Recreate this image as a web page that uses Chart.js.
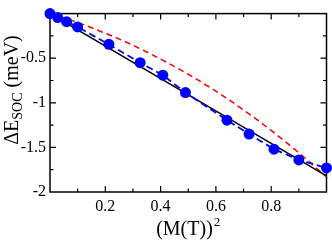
<!DOCTYPE html>
<html><head><meta charset="utf-8">
<script src="https://cdn.jsdelivr.net/npm/chart.js@4.4.0/dist/chart.umd.min.js"></script>
<style>html,body{margin:0;padding:0;background:#fff}#wrap{width:332px;height:240px}</style>
</head><body><div id="wrap"><canvas id="c" width="332" height="240"></canvas></div>
<script>
const blueX = [0, 0.028, 0.06, 0.1, 0.213, 0.326, 0.408, 0.49, 0.64, 0.72, 0.81, 0.9, 1.0];
const blueY = [0, -0.045, -0.09, -0.15, -0.345, -0.55, -0.69, -0.885, -1.195, -1.35, -1.52, -1.64, -1.73];
const redX = [0, 0.1, 0.2, 0.3, 0.4, 0.5, 0.6, 0.7, 0.8, 0.9, 1.0];
const redY = [0, -0.1, -0.22, -0.355, -0.51, -0.68, -0.87, -1.08, -1.31, -1.56, -1.83];
const blackX = [0, 1];
const blackY = [0, -1.82];
const xTickLabels = {0.2: '0.2', 0.4: '0.4', 0.6: '0.6', 0.8: '0.8'};
const yTickLabels = {'-0.5': '-0.5', '-1': '-1', '-1.5': '-1.5', '-2': '-2'};

const pts = (xs, ys) => xs.map((x, i) => ({x: x, y: ys[i]}));
const SERIF = '"Liberation Serif", "DejaVu Serif", serif';

const frame = {
  id: 'frame',
  beforeDatasetsDraw(chart) {
    const {ctx, chartArea: a, scales: {x, y}} = chart;
    ctx.save();
    ctx.strokeStyle = '#000';
    ctx.lineWidth = 1.5;
    ctx.strokeRect(a.left, a.top, a.right - a.left, a.bottom - a.top);
    ctx.lineWidth = 1.2;
    ctx.beginPath();
    for (let i = 1; i < 10; i++) {
      const v = i / 10;
      const px = x.getPixelForValue(v);
      const len = (i % 2 === 0) ? 6 : 3.5;
      ctx.moveTo(px, a.bottom); ctx.lineTo(px, a.bottom - len);
      ctx.moveTo(px, a.top); ctx.lineTo(px, a.top + len);
    }
    for (let i = 1; i < 8; i++) {
      const v = -i * 0.25;
      const py = y.getPixelForValue(v);
      const len = (i % 2 === 0) ? 6 : 3.5;
      ctx.moveTo(a.left, py); ctx.lineTo(a.left + len, py);
      ctx.moveTo(a.right, py); ctx.lineTo(a.right - len, py);
    }
    ctx.stroke();
    ctx.restore();
  },
  afterDraw(chart) {
    const {ctx, chartArea: a} = chart;
    ctx.save();
    ctx.fillStyle = '#000';
    ctx.textBaseline = 'alphabetic';
    // x title
    ctx.font = '20px ' + SERIF;
    const main = '(M(T))';
    const w1 = ctx.measureText(main).width;
    ctx.font = '13px ' + SERIF;
    const w2 = ctx.measureText('2').width;
    const cx = (a.left + a.right) / 2;
    let sx = cx - (w1 + w2 + 1) / 2;
    ctx.font = '20px ' + SERIF;
    ctx.textAlign = 'left';
    ctx.fillText(main, sx, 235);
    ctx.font = '13px ' + SERIF;
    ctx.fillText('2', sx + w1 + 1, 226);
    // y title
    ctx.translate(18, 90);
    ctx.rotate(-Math.PI / 2);
    ctx.font = '20px ' + SERIF;
    const p1 = '\u0394E', p3 = ' (meV)';
    const a1 = ctx.measureText(p1).width;
    const a3 = ctx.measureText(p3).width;
    ctx.font = '14px ' + SERIF;
    const a2 = ctx.measureText('SOC').width;
    let tx = -(a1 + a2 + a3) / 2;
    ctx.font = '20px ' + SERIF;
    ctx.fillText(p1, tx, 0);
    ctx.font = '14px ' + SERIF;
    ctx.fillText('SOC', tx + a1, 4);
    ctx.font = '20px ' + SERIF;
    ctx.fillText(p3, tx + a1 + a2, 0);
    ctx.restore();
  }
};

new Chart(document.getElementById('c'), {
  type: 'scatter',
  data: {
    datasets: [
      {data: pts(blueX, blueY), showLine: true, borderColor: '#0000ff', backgroundColor: '#0000ff',
       borderWidth: 1.8, borderDash: [7, 4], pointRadius: 5.5, pointBorderWidth: 0, pointHoverRadius: 5.5,
       clip: false},
      {data: pts(blackX, blackY), showLine: true, borderColor: '#000', borderWidth: 1.5, pointRadius: 0},
      {data: pts(redX, redY), showLine: true, borderColor: '#ff0000', borderWidth: 1.5, borderDash: [6, 4],
       pointRadius: 0, cubicInterpolationMode: 'monotone'}
    ]
  },
  options: {
    responsive: false, animation: false, events: [],
    layout: {padding: {top: 5, right: 4.5, left: 0, bottom: 0}},
    plugins: {legend: {display: false}, tooltip: {enabled: false}},
    scales: {
      x: {
        type: 'linear', min: 0, max: 1,
        afterFit(s) { s.height = 48; },
        grid: {display: false, drawTicks: false},
        border: {display: false},
        ticks: {stepSize: 0.2, padding: 5, color: '#000', maxRotation: 0,
          font: {family: SERIF, size: 16},
          callback: v => xTickLabels[Math.round(v * 10) / 10] || ''}
      },
      y: {
        type: 'linear', min: -2, max: 0,
        afterFit(s) { s.width = 50; },
        grid: {display: false, drawTicks: false},
        border: {display: false},
        ticks: {stepSize: 0.5, padding: 4, color: '#000',
          font: {family: SERIF, size: 16},
          callback: v => yTickLabels[String(Math.round(v * 10) / 10)] || ''}
      }
    }
  },
  plugins: [frame]
});
</script></body></html>
